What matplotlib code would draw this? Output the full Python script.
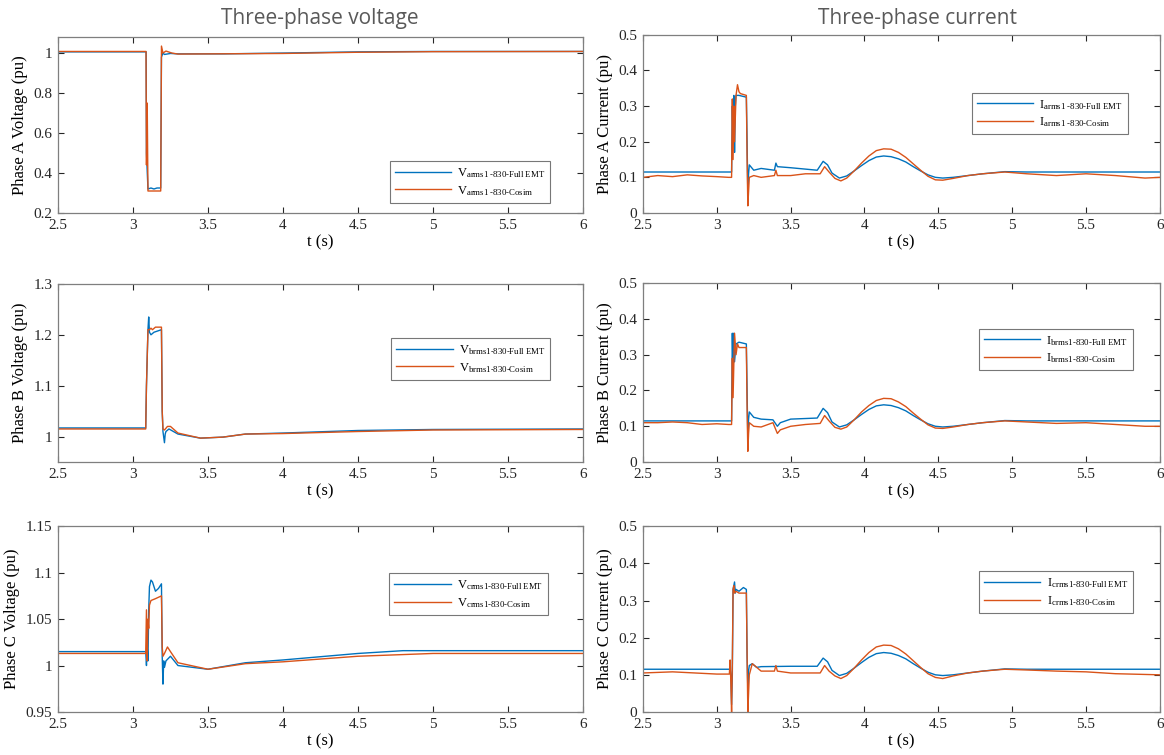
import matplotlib
matplotlib.use('Agg')
import matplotlib.pyplot as plt

plt.rcParams['font.family'] = ['Liberation Serif', 'DejaVu Serif']
plt.rcParams['mathtext.fontset'] = 'custom'
plt.rcParams['mathtext.rm'] = 'Liberation Serif'
plt.rcParams['mathtext.it'] = 'Liberation Serif:italic'

BLUE = '#0072BD'
ORANGE = '#D95319'

# ---------------- Phase A voltage ----------------
va_full_t = [2.5, 3.088, 3.09, 3.10, 3.12, 3.14, 3.16, 3.185, 3.19, 3.20, 3.21, 3.25, 3.3, 3.6, 4.0, 4.5, 5.0, 6.0]
va_full = [1.006, 1.006, 0.5, 0.32, 0.325, 0.32, 0.325, 0.325, 0.98, 1.0, 0.993, 0.998, 0.996, 0.996, 1.0, 1.006, 1.008, 1.008]
va_cos_t = [2.5, 3.087, 3.09, 3.095, 3.10, 3.185, 3.19, 3.20, 3.22, 3.26, 3.3, 4.0, 4.5, 5.0, 6.0]
va_cos = [1.008, 1.008, 0.44, 0.75, 0.31, 0.31, 1.035, 1.0, 1.01, 1.0, 0.995, 0.998, 1.004, 1.007, 1.008]

# ---------------- Phase B voltage ----------------
vb_full_t = [2.5, 3.085, 3.09, 3.10, 3.105, 3.11, 3.12, 3.14, 3.16, 3.19, 3.195, 3.20, 3.21, 3.215, 3.22, 3.24,
             3.3, 3.45, 3.6, 3.75, 4.0, 4.5, 5.0, 6.0]
vb_full = [1.017, 1.017, 1.1, 1.21, 1.235, 1.205, 1.2, 1.205, 1.207, 1.21, 1.05, 1.01, 0.988, 1.005, 1.01, 1.015,
           1.005, 0.997, 0.999, 1.005, 1.007, 1.012, 1.014, 1.015]
vb_cos_t = [2.5, 3.085, 3.09, 3.10, 3.11, 3.12, 3.13, 3.15, 3.19, 3.195, 3.20, 3.21, 3.23, 3.25, 3.3, 3.45,
            3.6, 3.75, 4.0, 4.5, 5.0, 6.0]
vb_cos = [1.015, 1.015, 1.1, 1.21, 1.21, 1.213, 1.21, 1.215, 1.215, 1.05, 1.015, 1.013, 1.02, 1.02, 1.007, 0.997,
          0.999, 1.005, 1.006, 1.01, 1.013, 1.014]

# ---------------- Phase C voltage ----------------
vc_full_t = [2.5, 3.085, 3.09, 3.095, 3.10, 3.105, 3.11, 3.12, 3.13, 3.15, 3.17, 3.19, 3.195, 3.20, 3.205, 3.21,
             3.22, 3.25, 3.3, 3.5, 3.75, 4.0, 4.5, 4.8, 6.0]
vc_full = [1.015, 1.015, 1.0, 1.02, 1.005, 1.06, 1.085, 1.092, 1.09, 1.08, 1.083, 1.088, 1.01, 0.98, 1.005, 0.998,
           1.005, 1.01, 1.0, 0.996, 1.003, 1.006, 1.013, 1.016, 1.016]
vc_cos_t = [2.5, 3.085, 3.09, 3.095, 3.10, 3.105, 3.11, 3.12, 3.15, 3.19, 3.195, 3.20, 3.21, 3.23, 3.25, 3.3,
            3.5, 3.75, 4.0, 4.5, 5.0, 6.0]
vc_cos = [1.013, 1.013, 1.06, 1.005, 1.05, 1.04, 1.065, 1.07, 1.072, 1.075, 1.02, 1.01, 1.013, 1.02, 1.015, 1.003,
          0.996, 1.002, 1.004, 1.01, 1.013, 1.013]

# ---------------- Phase A current ----------------
ia_full_t = [2.5, 3.1, 3.105, 3.11, 3.115, 3.12, 3.125, 3.13, 3.15, 3.2, 3.205, 3.21, 3.215, 3.22, 3.23, 3.25,
             3.3, 3.39, 3.40, 3.41, 3.5, 3.68, 3.72, 3.75, 3.78, 3.83, 3.88, 3.93, 3.98, 4.03, 4.08, 4.13,
             4.18, 4.23, 4.28, 4.33, 4.38, 4.43, 4.48, 4.53, 4.6, 4.7, 4.8, 4.95, 5.1, 6.0]
ia_full = [0.115, 0.115, 0.3, 0.2, 0.33, 0.17, 0.3, 0.33, 0.33, 0.325, 0.2, 0.05, 0.11, 0.135, 0.13, 0.12,
           0.125, 0.12, 0.14, 0.13, 0.127, 0.12, 0.145, 0.135, 0.112, 0.098, 0.104, 0.118, 0.133, 0.147, 0.157, 0.16,
           0.158, 0.152, 0.143, 0.13, 0.118, 0.107, 0.1, 0.098, 0.1, 0.105, 0.11, 0.116, 0.115, 0.115]
ia_cos_t = [2.5, 2.6, 2.7, 2.8, 2.9, 3.0, 3.08, 3.1, 3.105, 3.11, 3.115, 3.12, 3.13, 3.14, 3.15, 3.16, 3.2,
            3.205, 3.21, 3.215, 3.22, 3.25, 3.3, 3.39, 3.40, 3.41, 3.5, 3.6, 3.7, 3.73, 3.76, 3.8, 3.84, 3.88,
            3.93, 3.98, 4.03, 4.08, 4.13, 4.18, 4.23, 4.28, 4.33, 4.38, 4.43, 4.48, 4.53, 4.6, 4.7, 4.8, 4.95,
            5.1, 5.3, 5.5, 5.7, 5.9, 6.0]
ia_cos = [0.10, 0.105, 0.102, 0.107, 0.104, 0.102, 0.10, 0.10, 0.32, 0.15, 0.3, 0.2, 0.33, 0.36, 0.34, 0.335, 0.33,
          0.15, 0.02, 0.06, 0.10, 0.105, 0.1, 0.105, 0.12, 0.105, 0.105, 0.11, 0.11, 0.13, 0.115, 0.097, 0.09, 0.098,
          0.118, 0.14, 0.16, 0.175, 0.18, 0.179, 0.17, 0.156, 0.138, 0.12, 0.103, 0.093, 0.092, 0.097, 0.105, 0.11, 0.115,
          0.11, 0.105, 0.11, 0.105, 0.098, 0.1]

# ---------------- Phase B current ----------------
ib_full_t = [2.5, 3.1, 3.105, 3.11, 3.115, 3.12, 3.13, 3.15, 3.2, 3.205, 3.21, 3.215, 3.22, 3.23, 3.25, 3.3,
             3.38, 3.41, 3.43, 3.5, 3.68, 3.72, 3.75, 3.78, 3.83, 3.88, 3.93, 3.98, 4.03, 4.08, 4.13, 4.18,
             4.23, 4.28, 4.33, 4.38, 4.43, 4.48, 4.53, 4.6, 4.7, 4.8, 4.95, 5.1, 6.0]
ib_full = [0.115, 0.115, 0.36, 0.25, 0.36, 0.28, 0.33, 0.335, 0.33, 0.2, 0.06, 0.12, 0.14, 0.135, 0.125, 0.12,
           0.118, 0.1, 0.11, 0.12, 0.123, 0.15, 0.138, 0.112, 0.098, 0.104, 0.118, 0.133, 0.147, 0.157, 0.16, 0.158,
           0.152, 0.143, 0.13, 0.118, 0.107, 0.1, 0.098, 0.1, 0.105, 0.11, 0.116, 0.115, 0.115]
ib_cos_t = [2.5, 2.6, 2.7, 2.8, 2.9, 3.0, 3.08, 3.1, 3.105, 3.11, 3.12, 3.13, 3.14, 3.15, 3.2, 3.205, 3.21,
            3.215, 3.22, 3.25, 3.3, 3.38, 3.41, 3.43, 3.5, 3.6, 3.7, 3.73, 3.76, 3.8, 3.84, 3.88, 3.93, 3.98,
            4.03, 4.08, 4.13, 4.18, 4.23, 4.28, 4.33, 4.38, 4.43, 4.48, 4.53, 4.6, 4.7, 4.8, 4.95, 5.1, 5.3,
            5.5, 5.7, 5.9, 6.0]
ib_cos = [0.11, 0.11, 0.112, 0.11, 0.105, 0.107, 0.105, 0.105, 0.29, 0.18, 0.36, 0.3, 0.33, 0.32, 0.32, 0.15, 0.03,
          0.08, 0.11, 0.1, 0.098, 0.11, 0.08, 0.09, 0.1, 0.105, 0.108, 0.13, 0.115, 0.097, 0.092, 0.098, 0.118, 0.14,
          0.158, 0.172, 0.178, 0.177, 0.168, 0.155, 0.137, 0.12, 0.104, 0.095, 0.094, 0.098, 0.105, 0.11, 0.115,
          0.112, 0.108, 0.11, 0.105, 0.1, 0.1]

# ---------------- Phase C current ----------------
ic_full_t = [2.5, 3.09, 3.095, 3.10, 3.105, 3.11, 3.12, 3.125, 3.13, 3.15, 3.18, 3.2, 3.205, 3.21, 3.215, 3.22,
             3.24, 3.27, 3.3, 3.5, 3.68, 3.72, 3.75, 3.78, 3.83, 3.88, 3.93, 3.98, 4.03, 4.08, 4.13, 4.18, 4.23,
             4.28, 4.33, 4.38, 4.43, 4.48, 4.53, 4.6, 4.7, 4.8, 4.95, 5.1, 6.0]
ic_full = [0.115, 0.115, 0.1, 0.02, 0.1, 0.33, 0.35, 0.32, 0.33, 0.325, 0.335, 0.33, 0.15, 0.06, 0.11, 0.125,
           0.13, 0.12, 0.122, 0.123, 0.123, 0.145, 0.135, 0.112, 0.098, 0.104, 0.118, 0.133, 0.147, 0.157, 0.16, 0.158,
           0.152, 0.143, 0.13, 0.118, 0.107, 0.1, 0.098, 0.1, 0.105, 0.11, 0.116, 0.115, 0.115]
ic_cos_t = [2.5, 2.7, 2.9, 3.0, 3.085, 3.09, 3.095, 3.10, 3.105, 3.11, 3.115, 3.12, 3.13, 3.15, 3.2, 3.205,
            3.21, 3.215, 3.22, 3.24, 3.27, 3.3, 3.39, 3.40, 3.41, 3.5, 3.7, 3.73, 3.76, 3.8, 3.84, 3.88, 3.93,
            3.98, 4.03, 4.08, 4.13, 4.18, 4.23, 4.28, 4.33, 4.38, 4.43, 4.48, 4.53, 4.6, 4.7, 4.8, 4.95, 5.1,
            5.3, 5.5, 5.7, 6.0]
ic_cos = [0.105, 0.108, 0.104, 0.102, 0.102, 0.14, 0.08, 0.0, 0.13, 0.33, 0.34, 0.32, 0.325, 0.32, 0.32, 0.15,
          0.0, 0.05, 0.1, 0.13, 0.12, 0.11, 0.11, 0.125, 0.11, 0.105, 0.105, 0.125, 0.11, 0.097, 0.09, 0.098, 0.118,
          0.14, 0.16, 0.175, 0.18, 0.179, 0.17, 0.156, 0.138, 0.12, 0.103, 0.093, 0.09, 0.097, 0.105, 0.11, 0.115,
          0.113, 0.11, 0.108, 0.103, 0.1]

x_ticks = [2.5, 3, 3.5, 4, 4.5, 5, 5.5, 6]
x_tick_labels = ['2.5', '3', '3.5', '4', '4.5', '5', '5.5', '6']

panels = [
    # (rect, t1, y1, t2, y2, ylim, yticks, yticklabels, ylabel, leg1, leg2, legend anchor)
    ([0.0498, 0.7179, 0.451, 0.233], va_full_t, va_full, va_cos_t, va_cos, (0.2, 1.08),
     [0.2, 0.4, 0.6, 0.8, 1], ['0.2', '0.4', '0.6', '0.8', '1'], 'Phase A Voltage (pu)',
     r'V$_{\text{arms1 -830-Full EMT}}$', r'V$_{\text{arms1 -830-Cosim}}$', (0.95, 0.33)),
    ([0.0498, 0.388, 0.451, 0.236], vb_full_t, vb_full, vb_cos_t, vb_cos, (0.95, 1.3),
     [1, 1.1, 1.2, 1.3], ['1', '1.1', '1.2', '1.3'], 'Phase B Voltage (pu)',
     r'V$_{\text{brms1-830-Full EMT}}$', r'V$_{\text{brms1-830-Cosim}}$', (0.95, 0.73)),
    ([0.0498, 0.057, 0.451, 0.246], vc_full_t, vc_full, vc_cos_t, vc_cos, (0.95, 1.15),
     [0.95, 1, 1.05, 1.1, 1.15], ['0.95', '1', '1.05', '1.1', '1.15'], 'Phase C Voltage (pu)',
     r'V$_{\text{crms1-830-Full EMT}}$', r'V$_{\text{crms1-830-Cosim}}$', (0.945, 0.78)),
    ([0.5524, 0.7179, 0.444, 0.236], ia_full_t, ia_full, ia_cos_t, ia_cos, (0, 0.5),
     [0, 0.1, 0.2, 0.3, 0.4, 0.5], ['0', '0.1', '0.2', '0.3', '0.4', '0.5'], 'Phase A Current (pu)',
     r'I$_{\text{arms1 -830-Full EMT}}$', r'I$_{\text{arms1 -830-Cosim}}$', (0.95, 0.71)),
    ([0.5524, 0.388, 0.444, 0.237], ib_full_t, ib_full, ib_cos_t, ib_cos, (0, 0.5),
     [0, 0.1, 0.2, 0.3, 0.4, 0.5], ['0', '0.1', '0.2', '0.3', '0.4', '0.5'], 'Phase B Current (pu)',
     r'I$_{\text{brms1-830-Full EMT}}$', r'I$_{\text{brms1-830-Cosim}}$', (0.96, 0.78)),
    ([0.5524, 0.057, 0.444, 0.246], ic_full_t, ic_full, ic_cos_t, ic_cos, (0, 0.5),
     [0, 0.1, 0.2, 0.3, 0.4, 0.5], ['0', '0.1', '0.2', '0.3', '0.4', '0.5'], 'Phase C Current (pu)',
     r'I$_{\text{crms1-830-Full EMT}}$', r'I$_{\text{crms1-830-Cosim}}$', (0.96, 0.79)),
]

fig = plt.figure(figsize=(11.64, 7.55), dpi=100)

for rect, t1, y1, t2, y2, ylim, yt, ytl, ylab, l1, l2, anchor in panels:
    ax = fig.add_axes(rect)
    ax.plot(t1, y1, color=BLUE, lw=1.0, label=l1)
    ax.plot(t2, y2, color=ORANGE, lw=1.0, label=l2)
    ax.set_xlim(2.5, 6)
    ax.set_ylim(*ylim)
    ax.set_xticks(x_ticks)
    ax.set_xticklabels(x_tick_labels)
    ax.set_yticks(yt)
    ax.set_yticklabels(ytl)
    ax.tick_params(direction='in', top=True, right=True, labelsize=11, colors='#262626',
                   length=4, width=0.8, pad=4)
    for sp in ax.spines.values():
        sp.set_color('#7f7f7f')
        sp.set_linewidth(0.9)
    ax.set_xlabel('t (s)', fontsize=12, labelpad=2)
    ax.set_ylabel(ylab, fontsize=12, labelpad=4)
    leg = ax.legend(loc='upper right', bbox_to_anchor=anchor, fontsize=9, frameon=True,
                    fancybox=False, edgecolor='#555555', handlelength=4.5, borderpad=0.4,
                    labelspacing=0.3, handletextpad=0.5)
    leg.get_frame().set_linewidth(0.8)

fig.text(0.275, 0.976, 'Three-phase voltage', ha='center', va='center', fontsize=15,
         color='#595959', family='Open Sans')
fig.text(0.788, 0.976, 'Three-phase current', ha='center', va='center', fontsize=15,
         color='#595959', family='Open Sans')

fig.savefig('out.png', dpi=100)
